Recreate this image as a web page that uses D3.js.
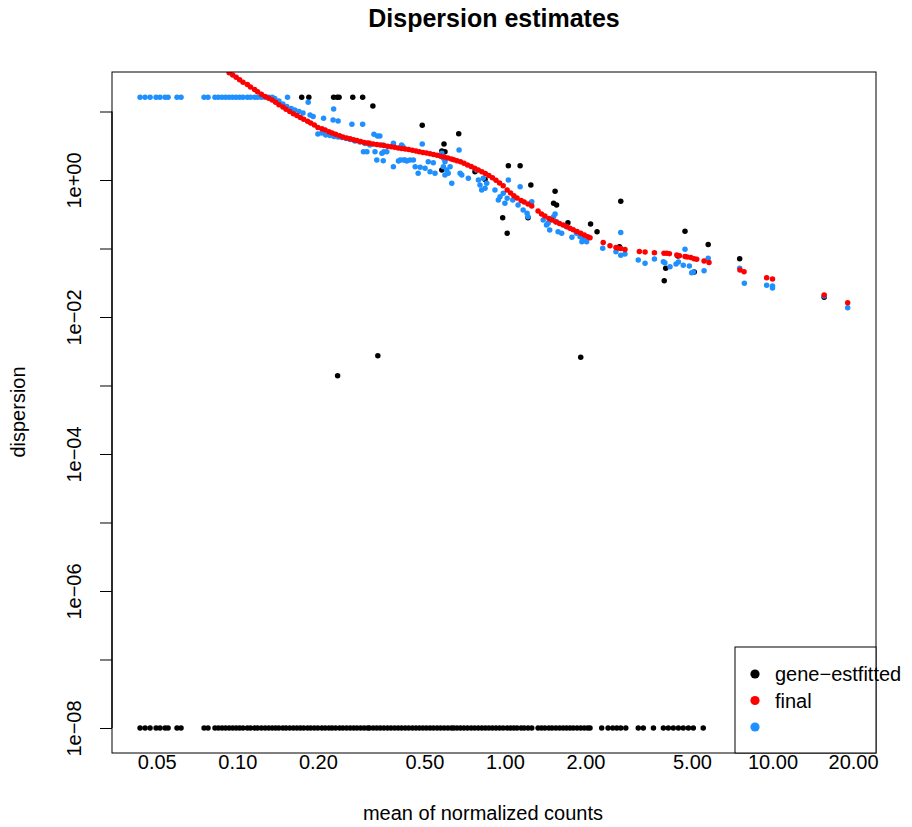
<!DOCTYPE html>
<html>
<head>
<meta charset="utf-8">
<script src="https://cdn.jsdelivr.net/npm/d3@7"></script>
<style>
  body { margin: 0; background: #fff; }
  svg text { font-family: "Liberation Sans", Arial, Helvetica, sans-serif; fill: #000; }
</style>
</head>
<body>
<svg id="chart" width="912" height="827"></svg>
<script>
// axis ticks
const xTicks = [0.05, 0.1, 0.2, 0.5, 1, 2, 5, 10, 20];
const xTickLabels = ['0.05', '0.10', '0.20', '0.50', '1.00', '2.00', '5.00', '10.00', '20.00'];
const yTicks = [1e-8, 1e-7, 1e-6, 1e-5, 1e-4, 1e-3, 1e-2, 1e-1, 1e0, 1e1];
const yTickLabels = ['1e\u221208', '', '1e\u221206', '', '1e\u221204', '', '1e\u221202', '', '1e+00', ''];

const legendLabels = ['gene\u2212estfitted', 'final', ''];
const legendColors = ['black', 'red', 'dodgerblue'];

// gene-wise estimates that sit at the floor
const minDisp = 1e-8;
const floorMeans = [
    0.0433, 0.0452, 0.0472, 0.0497, 0.0514, 0.0537, 0.0551, 0.0595, 0.0616, 0.0751, 0.0777,
    0.0825, 0.085, 0.0877, 0.0904, 0.0932, 0.0961, 0.099, 0.102, 0.105, 0.109, 0.112, 0.116,
    0.119, 0.123, 0.127, 0.131, 0.135, 0.139, 0.143, 0.148, 0.152, 0.157, 0.162, 0.167, 0.172,
    0.177, 0.183, 0.188, 0.194, 0.2, 0.207, 0.213, 0.22, 0.226, 0.233, 0.241, 0.248, 0.256,
    0.264, 0.272, 0.28, 0.289, 0.298, 0.307, 0.312, 0.322, 0.332, 0.342, 0.353, 0.364, 0.375,
    0.387, 0.399, 0.411, 0.424, 0.437, 0.451, 0.465, 0.479, 0.494, 0.509, 0.525, 0.541, 0.558,
    0.575, 0.593, 0.612, 0.631, 0.644, 0.662, 0.682, 0.703, 0.725, 0.748, 0.771, 0.795, 0.82,
    0.845, 0.871, 0.898, 0.926, 0.955, 0.985, 1.02, 1.05, 1.08, 1.11, 1.15, 1.18, 1.22, 1.26,
    1.33, 1.37, 1.41, 1.46, 1.5, 1.55, 1.6, 1.65, 1.7, 1.75, 1.8, 1.86, 1.92, 1.98, 2.04, 2.08,
    2.3, 2.43, 2.53, 2.62, 2.71, 2.83, 3.15, 3.29, 3.59, 3.91, 4.08, 4.26, 4.45, 4.64, 4.85,
    5.06, 5.51
];

// other gene-wise estimates [mean, dispersion]
const geneEst = [
    [0.174, 16.1], [0.185, 16.1], [0.229, 16.1], [0.236, 16.1], [0.240, 16.1], [0.270, 16.1],
    [0.294, 16.1], [0.321, 12.0], [0.491, 6.29], [0.672, 4.74], [0.592, 3.35], [0.581, 2.65],
    [0.597, 2.59], [0.581, 1.40], [0.773, 1.32], [0.843, 1.02], [1.03, 1.62], [1.14, 1.62],
    [1.25, 0.845], [1.54, 0.684], [1.52, 0.457], [1.56, 0.432], [0.981, 0.282], [1.02, 0.167],
    [1.22, 0.282], [1.72, 0.238], [2.09, 0.228], [2.21, 0.176], [2.71, 0.489], [2.68, 0.106],
    [4.71, 0.178], [5.75, 0.114], [4.43, 0.0777], [3.99, 0.0514], [3.94, 0.0339], [5.10, 0.0454],
    [7.54, 0.071], [15.6, 0.0194], [0.237, 0.00139], [0.335, 0.00272], [1.92, 0.00258]
];

// final (shrunken) estimates [mean, dispersion]
const finalDisp = [
    [0.0433, 16.1], [0.0452, 16.1], [0.0472, 16.1], [0.0497, 16.1], [0.0514, 16.1], [0.0537, 16.1],
    [0.0551, 16.1], [0.0595, 16.1], [0.0616, 16.1], [0.0751, 16.1], [0.0777, 16.1], [0.0825, 16.1],
    [0.085, 16.1], [0.0877, 16.1], [0.0904, 16.1], [0.0932, 16.1], [0.0961, 16.1], [0.099, 16.1],
    [0.102, 16.1], [0.105, 16.1], [0.109, 16.1], [0.112, 16.1], [0.116, 16.1], [0.119, 16.1],
    [0.123, 16.1], [0.127, 16.1], [0.131, 16.1], [0.135, 16.1], [0.154, 16.1],
    [0.138, 15.5], [0.143, 14.2], [0.148, 12.9], [0.153, 11.8], [0.159, 11.1], [0.164, 10.5],
    [0.170, 10.0], [0.176, 9.51], [0.184, 13.6], [0.187, 8.89], [0.192, 8.45], [0.210, 7.96],
    [0.229, 10.9], [0.228, 7.51], [0.238, 7.27], [0.268, 6.50], [0.294, 6.50], [0.324, 4.65],
    [0.334, 4.39], [0.200, 4.69], [0.207, 4.85], [0.214, 4.54], [0.222, 4.46], [0.230, 4.32],
    [0.238, 4.24], [0.246, 4.17], [0.255, 4.03], [0.264, 3.90], [0.275, 3.71], [0.287, 3.59],
    [0.300, 3.41], [0.313, 3.24], [0.296, 2.59], [0.305, 2.59], [0.327, 2.59], [0.347, 2.45],
    [0.362, 2.59], [0.332, 1.96], [0.351, 1.91], [0.383, 1.56], [0.400, 1.89], [0.417, 1.96],
    [0.430, 1.89], [0.350, 3.24], [0.382, 3.17], [0.416, 3.06], [0.341, 4.39], [0.353, 2.59],
    [0.383, 3.43], [0.411, 3.24], [0.406, 1.96], [0.424, 1.96], [0.442, 1.96], [0.455, 1.96],
    [0.462, 1.56], [0.482, 1.53], [0.503, 1.48], [0.474, 1.25], [0.491, 3.35], [0.517, 1.85],
    [0.540, 1.79], [0.525, 1.32], [0.548, 1.25], [0.581, 2.45], [0.589, 2.07], [0.597, 1.85],
    [0.589, 1.56], [0.606, 1.40], [0.614, 1.25], [0.597, 1.18], [0.624, 1.56], [0.633, 0.895],
    [0.674, 2.74], [0.680, 1.25], [0.690, 1.18], [0.730, 1.06], [0.785, 1.40], [0.796, 1.0],
    [0.807, 0.845], [0.819, 0.714], [0.830, 1.06], [0.855, 0.895], [0.843, 0.757], [0.918, 0.714],
    [0.945, 0.511], [0.959, 0.570], [0.986, 0.640], [1.02, 0.541], [1.03, 1.0], [1.00, 0.457],
    [1.07, 0.511], [1.12, 0.432], [1.14, 0.798], [1.17, 0.365], [1.21, 0.327], [1.22, 0.291],
    [1.26, 0.482], [1.39, 0.261], [1.43, 0.220], [1.47, 0.186], [1.45, 0.233], [1.52, 0.291],
    [1.54, 0.319], [1.56, 0.246], [1.58, 0.176], [1.63, 0.167], [1.70, 0.208], [1.78, 0.146],
    [1.85, 0.167], [1.94, 0.126], [1.96, 0.136], [2.02, 0.126], [1.91, 0.149], [2.32, 0.101],
    [2.60, 0.0898], [2.71, 0.0796], [2.81, 0.0832], [2.71, 0.171], [3.15, 0.0679], [3.34, 0.0608],
    [3.62, 0.0703], [3.91, 0.0641], [3.96, 0.0620], [4.14, 0.0542], [4.36, 0.0594], [4.45, 0.0635],
    [4.64, 0.0569], [4.89, 0.0555], [4.99, 0.0443], [5.06, 0.0454], [4.71, 0.0973], [5.55, 0.0474],
    [5.75, 0.0719], [7.54, 0.0514], [7.85, 0.0310], [9.51, 0.0290], [10.0, 0.0284], [10.0, 0.0265],
    [15.6, 0.0203], [19.1, 0.0137]
];

// fitted trend [mean, dispersion]
const fittedDisp = [
    [0.0932, 36.8], [0.0961, 34.1], [0.099, 31.5], [0.102, 29.0], [0.105, 26.8], [0.109, 24.7],
    [0.112, 22.8], [0.116, 21.0], [0.119, 19.4], [0.123, 17.8], [0.127, 16.6], [0.131, 15.6],
    [0.135, 14.7], [0.139, 13.6], [0.143, 12.6], [0.148, 11.6], [0.152, 10.8], [0.157, 10.0],
    [0.162, 9.31], [0.167, 8.74], [0.172, 8.20], [0.177, 7.69], [0.183, 7.21], [0.188, 6.79],
    [0.194, 6.37], [0.2, 5.86], [0.207, 5.62], [0.213, 5.35], [0.22, 5.06], [0.226, 4.87],
    [0.233, 4.65], [0.241, 4.43], [0.248, 4.23], [0.256, 4.10], [0.264, 3.99], [0.272, 3.88],
    [0.28, 3.76], [0.289, 3.64], [0.298, 3.53], [0.307, 3.47], [0.312, 3.43], [0.322, 3.35],
    [0.332, 3.30], [0.342, 3.24], [0.353, 3.18], [0.364, 3.11], [0.375, 3.05], [0.387, 3.00],
    [0.399, 2.94], [0.411, 2.88], [0.424, 2.84], [0.437, 2.78], [0.451, 2.71], [0.465, 2.65],
    [0.479, 2.59], [0.494, 2.53], [0.509, 2.47], [0.525, 2.41], [0.541, 2.35], [0.558, 2.29],
    [0.575, 2.23], [0.593, 2.16], [0.612, 2.10], [0.631, 2.03], [0.644, 1.98], [0.662, 1.91],
    [0.682, 1.84], [0.703, 1.75], [0.725, 1.65], [0.748, 1.57], [0.771, 1.49], [0.795, 1.40],
    [0.82, 1.32], [0.845, 1.24], [0.871, 1.16], [0.898, 1.08], [0.926, 0.99], [0.955, 0.904],
    [0.985, 0.823], [1.02, 0.712], [1.05, 0.648], [1.08, 0.590], [1.11, 0.546], [1.15, 0.502],
    [1.18, 0.478], [1.22, 0.446], [1.26, 0.417], [1.33, 0.353], [1.37, 0.319], [1.41, 0.298],
    [1.46, 0.275], [1.5, 0.261], [1.55, 0.244], [1.6, 0.232], [1.65, 0.220], [1.7, 0.209],
    [1.75, 0.198], [1.8, 0.188], [1.86, 0.177], [1.92, 0.167], [1.98, 0.157], [2.04, 0.149],
    [2.08, 0.144], [2.33, 0.122], [2.47, 0.110], [2.60, 0.103], [2.65, 0.102], [2.71, 0.100],
    [2.81, 0.0967], [3.18, 0.0904], [3.34, 0.0889], [3.62, 0.0868], [3.93, 0.0851], [4.02, 0.0851],
    [4.12, 0.0840], [4.39, 0.0804], [4.49, 0.0785], [4.71, 0.0764], [4.80, 0.0751], [4.95, 0.0739],
    [5.09, 0.0710], [5.21, 0.0696], [5.55, 0.0657], [5.79, 0.0625], [7.56, 0.0486], [7.83, 0.0459],
    [9.51, 0.0375], [10.0, 0.0359], [15.6, 0.0210], [19.1, 0.0162]
];

let plot = {left: 112, right: 876, top: 72, bottom: 753};
let pointR = 2.75;

let svg = d3.select('#chart');
svg.append('rect').attr('width', 912).attr('height', 827).attr('fill', 'white');

let x = d3.scaleLog().domain([0.03401, 24.37]).range([plot.left, plot.right]);
let y = d3.scaleLog().domain([4.315e-9, 37.73]).range([plot.bottom, plot.top]);

svg.append('clipPath').attr('id', 'clip')
    .append('rect')
    .attr('x', plot.left).attr('y', plot.top)
    .attr('width', plot.right - plot.left).attr('height', plot.bottom - plot.top);

let g = svg.append('g').attr('clip-path', 'url(#clip)');

function dots(data, color, r) {
    g.append('g')
        .selectAll('circle')
        .data(data)
        .enter()
        .append('circle')
        .attr('cx', d => x(d[0]))
        .attr('cy', d => y(d[1]))
        .attr('r', r)
        .attr('fill', color);
}

// black first, then final (blue), fitted (red) on top
dots(floorMeans.map(m => [m, minDisp]), 'black', pointR);
dots(geneEst, 'black', pointR);
dots(finalDisp, 'dodgerblue', pointR);
dots(fittedDisp, 'red', pointR);

// box
svg.append('rect')
    .attr('x', plot.left).attr('y', plot.top)
    .attr('width', plot.right - plot.left).attr('height', plot.bottom - plot.top)
    .attr('fill', 'none').attr('stroke', 'black').attr('stroke-width', 1);

// y axis
let yAxis = d3.axisLeft(y)
    .tickValues(yTicks)
    .tickFormat((d, i) => yTickLabels[i])
    .tickSizeInner(12)
    .tickSizeOuter(0)
    .tickPadding(0);

let ya = svg.append('g').attr('transform', 'translate(' + plot.left + ',0)').call(yAxis);
ya.select('.domain')
    .attr('d', 'M0,' + y(yTicks[0]) + 'V' + y(yTicks[yTicks.length - 1]))
    .attr('stroke-width', 1.3);
ya.selectAll('.tick line').attr('stroke', 'black');
ya.selectAll('.tick text')
    .attr('font-size', 20)
    .attr('text-anchor', 'middle')
    .attr('dy', null)
    .attr('x', null)
    .attr('transform', 'translate(-31,0) rotate(-90)');

// x axis: labels only
let xAxis = d3.axisBottom(x)
    .tickValues(xTicks)
    .tickFormat((d, i) => xTickLabels[i])
    .tickSize(0)
    .tickPadding(0);

let xa = svg.append('g').attr('transform', 'translate(0,' + plot.bottom + ')').call(xAxis);
xa.select('.domain').remove();
xa.selectAll('.tick text')
    .attr('font-size', 20)
    .attr('dy', null)
    .attr('y', 16);

// titles
svg.append('text')
    .attr('x', 494).attr('y', 27)
    .attr('text-anchor', 'middle')
    .attr('font-size', 25).attr('font-weight', 'bold')
    .text('Dispersion estimates');

svg.append('text')
    .attr('x', 483).attr('y', 820)
    .attr('text-anchor', 'middle')
    .attr('font-size', 20)
    .text('mean of normalized counts');

svg.append('text')
    .attr('transform', 'translate(25,412) rotate(-90)')
    .attr('text-anchor', 'middle')
    .attr('font-size', 20)
    .text('dispersion');

// legend
let legendRows = [674, 700.5, 727];
svg.append('rect')
    .attr('x', 735).attr('y', 647)
    .attr('width', plot.right - 735).attr('height', plot.bottom - 647)
    .attr('fill', 'white').attr('stroke', 'black');

let lg = svg.append('g').selectAll('g')
    .data(legendLabels)
    .enter()
    .append('g')
    .attr('transform', (d, i) => 'translate(755,' + legendRows[i] + ')');

lg.append('circle').attr('r', 4.6).attr('fill', (d, i) => legendColors[i]);
lg.append('text')
    .attr('x', 20).attr('y', 7)
    .attr('font-size', 20)
    .text(d => d);
</script>
</body>
</html>
